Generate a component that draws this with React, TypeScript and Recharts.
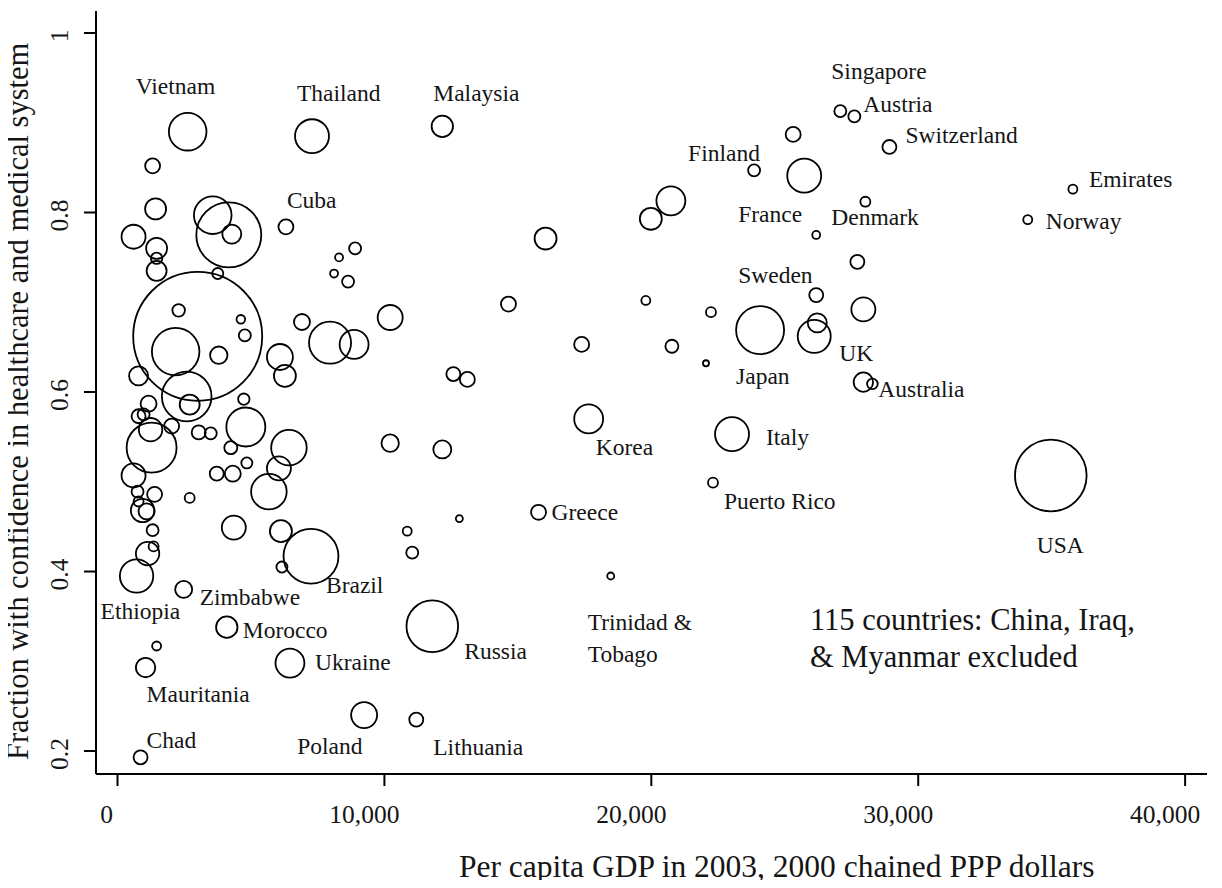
import React from 'react';
import { ScatterChart, Scatter, XAxis, YAxis, ZAxis } from 'recharts';

// ---- data ----
const countries = [
  'Vietnam', 'Thailand', '', '', '', '', '', 'Cuba', '', '',
  '', '', '', '', '', '', '', '', '', '',
  '', '', '', '', '', '', '', '', '', '',
  '', '', '', '', '', '', '', '', '', '',
  '', '', '', '', '', '', '', '', '', '',
  '', '', '', '', '', '', '', '', '', '',
  '', '', 'Ethiopia', 'Zimbabwe', 'Morocco', '', 'Mauritania', 'Ukraine', 'Poland', 'Chad',
  'Brazil', '', 'Malaysia', '', '', '', '', '', '', '',
  '', '', '', '', '', '', '', '', '', 'Russia',
  'Lithuania', 'Trinidad & Tobago', 'Greece', 'Korea', 'Puerto Rico', 'Italy', 'Japan', 'UK', '', 'Sweden',
  '', '', 'Australia', '', 'France', '', 'Denmark', 'Finland', 'Singapore', 'Austria',
  'Switzerland', 'Emirates', 'Norway', 'USA',
];

const gdp = [
  2629, 7287, 1315, 1427, 3568, 4169, 4282, 6310, 601, 1465,
  1465, 1465, 3756, 8902, 8301, 8113, 8639, 3005, 2291, 4620,
  4770, 2178, 3794, 789, 2592, 2704, 1164, 4733, 789, 977,
  2028, 1239, 1277, 3042, 3493, 4808, 4244, 6423, 6047, 5672,
  4845, 3718, 4319, 601, 751, 1390, 939, 1089, 789, 1315,
  4357, 6122, 2704, 7963, 8864, 6085, 6272, 6911, 10216, 10216,
  1352, 1127, 714, 2479, 4094, 1465, 1052, 6460, 9240, 864,
  7249, 6160, 12169, 25315, 20733, 19982, 16038, 14648, 19794, 22235,
  17390, 20771, 22048, 12583, 13108, 12169, 12808, 10855, 11043, 11794,
  11193, 18479, 15775, 17653, 22311, 23024, 24076, 26104, 26217, 26179,
  27945, 27720, 27945, 28283, 25729, 26179, 28020, 23851, 27081, 27607,
  28921, 35795, 34104, 34968,
];

const confidence = [
  0.890, 0.885, 0.852, 0.804, 0.797, 0.775, 0.776, 0.784, 0.773, 0.760,
  0.749, 0.735, 0.732, 0.760, 0.750, 0.732, 0.723, 0.662, 0.691, 0.681,
  0.663, 0.645, 0.641, 0.618, 0.595, 0.586, 0.587, 0.592, 0.573, 0.575,
  0.562, 0.558, 0.538, 0.555, 0.554, 0.561, 0.538, 0.538, 0.515, 0.489,
  0.521, 0.509, 0.509, 0.507, 0.489, 0.486, 0.468, 0.467, 0.478, 0.446,
  0.449, 0.445, 0.482, 0.655, 0.653, 0.639, 0.618, 0.678, 0.683, 0.543,
  0.428, 0.420, 0.395, 0.380, 0.338, 0.317, 0.293, 0.298, 0.240, 0.193,
  0.417, 0.405, 0.896, 0.887, 0.813, 0.793, 0.771, 0.698, 0.702, 0.689,
  0.653, 0.651, 0.632, 0.620, 0.614, 0.536, 0.459, 0.445, 0.421, 0.339,
  0.235, 0.395, 0.466, 0.570, 0.499, 0.553, 0.669, 0.662, 0.677, 0.708,
  0.692, 0.745, 0.611, 0.609, 0.841, 0.775, 0.812, 0.847, 0.913, 0.907,
  0.873, 0.826, 0.792, 0.507,
];

// population, millions (bubble area)
const population = [
  89.5, 73, 14.2, 27.9, 89.5, 267, 22.9, 14.2, 36.5, 27.9,
  8.2, 25.3, 7.7, 9.1, 4, 4, 9.1, 1054, 10, 4.7,
  9.1, 143, 19.2, 22.9, 156, 25.3, 16.2, 8.2, 12.4, 9.1,
  14.2, 34.7, 158, 12.4, 9.1, 96.3, 10.7, 80, 36.5, 80,
  7.7, 12.4, 16.2, 36.5, 9.1, 14.2, 34.7, 16.2, 6.3, 9.1,
  36.5, 30.6, 6.3, 112, 53, 42.8, 30.6, 16.2, 39.6, 19.2,
  6.3, 34.7, 70.6, 18.3, 29, 5.1, 23.8, 53, 42.8, 12.4,
  191, 7.7, 29, 14.2, 53, 30.6, 30.6, 14.2, 5.1, 6.3,
  14.2, 10.7, 2.3, 12.4, 14.2, 20.5, 3.1, 5.1, 9.1, 169,
  12.4, 3.1, 14.2, 53, 6.3, 73, 146, 69, 22.9, 12.4,
  36.5, 12.4, 23.8, 7.1, 73, 4, 6.3, 9.1, 9.1, 9.1,
  12.4, 5.1, 5.1, 325,
];

const xTicks = [0, 10000, 20000, 30000, 40000];
const yTicks = [0.2, 0.4, 0.6, 0.8, 1];
const xTitle = 'Per capita GDP in 2003, 2000 chained PPP dollars';
const yTitle = 'Fraction with confidence in healthcare and medical system';
const noteLines = ['115 countries: China, Iraq,', '& Myanmar excluded'];

// ---- label placement (style): offset of text's left edge / middle from bubble centre, px ----
const LABEL_OFFSET: Record<string, [number, number]> = {
  Vietnam: [-52, -46],
  Thailand: [-15, -43],
  Malaysia: [-9, -33],
  Cuba: [1, -27],
  Ethiopia: [-36, 35],
  Zimbabwe: [16, 8],
  Brazil: [15, 29],
  Morocco: [16, 3],
  Ukraine: [25, -1],
  Mauritania: [1, 26],
  Chad: [6, -17],
  Poland: [-67, 31],
  Russia: [32, 25],
  Lithuania: [17, 27],
  'Trinidad & Tobago': [-23, 46],
  Greece: [13, 0],
  Korea: [7, 28],
  'Puerto Rico': [11, 18],
  Italy: [34, 3],
  Japan: [-24, 46],
  UK: [25, 17],
  Australia: [15, 7],
  Sweden: [-78, -20],
  France: [-66, 38],
  Denmark: [-34, 15],
  Finland: [-66, -17],
  Singapore: [-9, -40],
  Austria: [9, -12],
  Switzerland: [16, -12],
  Emirates: [16, -10],
  Norway: [18, 1],
  USA: [-14, 70],
};
const LABEL_LINES: Record<string, string[]> = {
  'Trinidad & Tobago': ['Trinidad &', 'Tobago'],
};

const data = countries.map((name, i) => ({
  name,
  gdp: gdp[i],
  conf: confidence[i],
  pop: population[i],
}));

const FONT = '"Liberation Serif", "DejaVu Serif", serif';
const INK = '#151515';

const Bubble = (props: any) => {
  const { cx, cy, size, width, payload } = props;
  const r = size != null ? Math.sqrt(size / Math.PI) : width / 2;
  const name: string = payload?.name || '';
  const off = LABEL_OFFSET[name];
  const lines = LABEL_LINES[name] || [name];
  return (
    <g>
      <circle cx={cx} cy={cy} r={r} fill="none" stroke="#000" strokeWidth={1.8} />
      {off &&
        lines.map((ln, k) => (
          <text
            key={k}
            x={cx + off[0]}
            y={cy + off[1] + 8 + k * 32}
            fontFamily={FONT}
            fontSize={23.5}
            fill={INK}
          >
            {ln}
          </text>
        ))}
    </g>
  );
};

const XTick = (props: any) => {
  const { x, payload } = props;
  const v = payload.value as number;
  const dx = v === 0 ? -11 : -20;
  return (
    <text x={x + dx} y={823} textAnchor="middle" fontFamily={FONT} fontSize={25.5} fill={INK}>
      {v.toLocaleString('en-US')}
    </text>
  );
};

const YTick = (props: any) => {
  const { y, payload } = props;
  const bx = 68;
  const by = y + 3;
  return (
    <text
      x={bx}
      y={by}
      transform={`rotate(-90, ${bx}, ${by})`}
      textAnchor="middle"
      fontFamily={FONT}
      fontSize={25.5}
      fill={INK}
    >
      {String(payload.value)}
    </text>
  );
};

const XTitle = () => (
  <g>
    <text x={459} y={877} fontFamily={FONT} fontSize={31.5} fill={INK}>
      {xTitle}
    </text>
    {noteLines.map((ln, k) => (
      <text key={k} x={810} y={630 + k * 37} fontFamily={FONT} fontSize={30.5} fill={INK}>
        {ln}
      </text>
    ))}
  </g>
);

const YTitle = () => (
  <text
    x={28}
    y={760}
    transform="rotate(-90, 28, 760)"
    fontFamily={FONT}
    fontSize={30.5}
    fill={INK}
  >
    {yTitle}
  </text>
);

export default function App() {
  return (
    <div style={{ margin: -8, width: 1222, height: 888, background: '#fff' }}>
      <ScatterChart
        width={1222}
        height={888}
        margin={{ top: 11, right: 15, left: 0, bottom: 0 }}
      >
        <XAxis
          type="number"
          dataKey="gdp"
          domain={[-806, 40820]}
          allowDataOverflow
          ticks={xTicks}
          interval={0}
          height={114}
          tickSize={12}
          axisLine={{ stroke: '#000', strokeWidth: 2 }}
          tickLine={{ stroke: '#000', strokeWidth: 2 }}
          tick={<XTick />}
          label={{ content: () => <XTitle /> }}
        />
        <YAxis
          type="number"
          dataKey="conf"
          domain={[0.1744, 1.0245]}
          allowDataOverflow
          ticks={yTicks}
          interval={0}
          width={96}
          tickSize={12}
          axisLine={{ stroke: '#000', strokeWidth: 2 }}
          tickLine={{ stroke: '#000', strokeWidth: 2 }}
          tick={<YTick />}
          label={{ content: () => <YTitle /> }}
        />
        <ZAxis type="number" dataKey="pop" domain={[0, 1100]} range={[0, 13645.5]} />
        <Scatter data={data} shape={<Bubble />} isAnimationActive={false} />
      </ScatterChart>
    </div>
  );
}
